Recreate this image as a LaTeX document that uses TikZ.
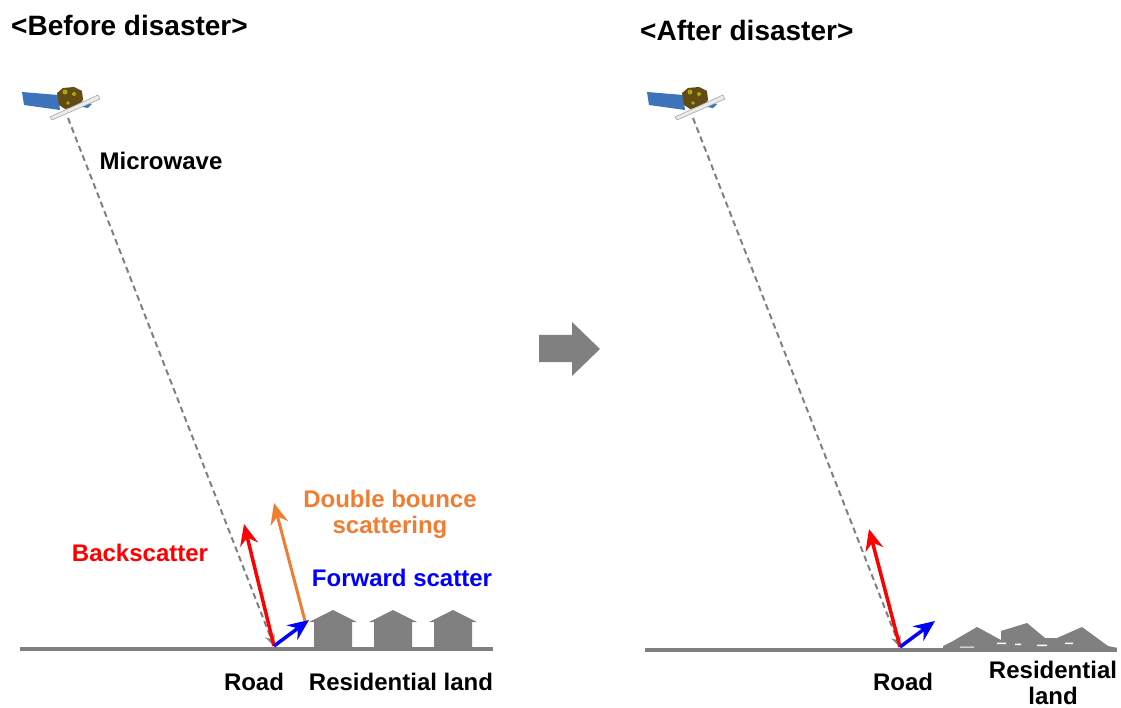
\documentclass[tikz,border=0pt]{standalone}
\usepackage{fontspec}
\setmainfont{Liberation Sans}
\usetikzlibrary{calc,arrows.meta}
\definecolor{dgray}{rgb}{0.5,0.5,0.5}
\definecolor{lgray}{rgb}{0.5,0.5,0.5}
\definecolor{dorange}{rgb}{0.94,0.49,0.19}
\definecolor{panel}{rgb}{0.24,0.45,0.73}
\definecolor{gold}{rgb}{0.38,0.30,0.08}
\newcommand{\lblfont}{\fontsize{24}{26}\selectfont\bfseries}
\newcommand{\ttlfont}{\fontsize{28}{31}\selectfont\bfseries}
\tikzset{
  wave/.style={lgray,line width=2pt,dash pattern=on 6pt off 4pt,
               -{Stealth[length=11pt,width=10pt]}},
  ray/.style={line width=3.5pt,-{Stealth[length=21pt,width=18pt,inset=7pt]}},
  ground/.style={dgray,line width=4pt},
  lbl/.style={font=\lblfont,inner sep=0pt,align=center}
}
\newcommand{\satellite}[2]{
\begin{scope}[shift={(#1,#2)}]
% solar panel
\fill[panel] (-46,-26) -- (-10,-23) -- (-8,-8) -- (-44,-13) -- cycle;
\fill[panel] (8,-18) -- (24,-14) -- (20,-10) -- (8,-12) -- cycle;
% bus
\fill[gold] (-11,-25) -- (-5,-30) -- (6,-31) -- (14,-27) -- (15,-18)
            -- (8,-11) -- (-3,-9) -- (-9,-13) -- cycle;
\fill[gold!50!yellow] (-3,-26) circle(2.5) (6,-24) circle(2) (0,-15) circle(1.8);
% antenna
\filldraw[fill=black!8,draw=black!35,line width=0.6pt]
   (-18,-1) -- (30,-23) -- (32,-19) -- (-16,2) -- cycle;
\end{scope}
}
\newcommand{\house}[1]{
\fill[dgray] ($(#1-24,622)$) -- ($(#1,610)$) -- ($(#1+24,622)$) --
             ($(#1+19,622)$) -- ($(#1+19,648)$) --
             ($(#1-19,648)$) -- ($(#1-19,622)$) -- cycle;
}

\begin{document}
\begin{tikzpicture}[x=1pt,y=-1pt]
\useasboundingbox (0,0) rectangle (1121,708);

%%%%% before
\node[font=\ttlfont,anchor=west,inner sep=0pt] (tA) at (11,25) {<Before disaster>};

\satellite{68}{118}
\coordinate (satA) at (68,118);
\coordinate (roadA) at (274,646);
\coordinate (bsA) at (244,524);
\coordinate (dbA0) at (305,621);
\coordinate (dbA) at (274,503);
\coordinate (fsA) at (309,620);

\draw[ground] (20,649) -- (493,649);
\house{333}
\house{393}
\house{453}

\draw[wave] (satA) -- (roadA);
\draw[ray,red] (roadA) -- (bsA);
\draw[ray,dorange,line width=3pt] (dbA0) -- (dbA);
\draw[ray,blue] (roadA) -- (fsA);

\node[lbl] (mwA) at (161,161) {Microwave};
\node[lbl,red] (bsl) at (140,553) {Backscatter};
\node[lbl,dorange] (dbl) at (390,514) {Double bounce\\scattering};
\node[lbl,blue] (fsl) at (402,578) {Forward scatter};
\node[lbl] (rdA) at (254,682) {Road};
\node[lbl] (rlA) at (401,682) {Residential land};

%%%%% arrow between
\fill[dgray] (539,335) -- (572,335) -- (572,322) -- (600,349) --
             (572,376) -- (572,362) -- (539,362) -- cycle;

%%%%% after
\node[font=\ttlfont,anchor=west,inner sep=0pt] (tB) at (640,30) {<After disaster>};

\satellite{693}{118}
\coordinate (satB) at (693,118);
\coordinate (roadB) at (900,647);
\coordinate (bsB) at (869,529);
\coordinate (fsB) at (935,621);

\draw[ground] (645,650) -- (1117,650);

% collapsed houses
\fill[dgray] (943,646) -- (953,641) -- (977,627) -- (1001,640) -- (1001,631)
   -- (1027,623) -- (1045,638) -- (1057,638) -- (1082,627) -- (1108,646)
   -- (1118,648) -- (943,649) -- cycle;
\fill[white] (997,642.5) rectangle (1006,644)
             (1015,643.5) rectangle (1021,645)
             (1037,644.5) rectangle (1047,646)
             (1065,642.5) rectangle (1073,644)
             (960,646.5) rectangle (974,647.5);

\draw[wave] (satB) -- (roadB);
\draw[ray,red] (roadB) -- (bsB);
\draw[ray,blue] (roadB) -- (fsB);

\node[lbl] (rdB) at (903,682) {Road};
\node[lbl] (rlB) at (1053,683) {Residential\\land};
\end{tikzpicture}
\end{document}
